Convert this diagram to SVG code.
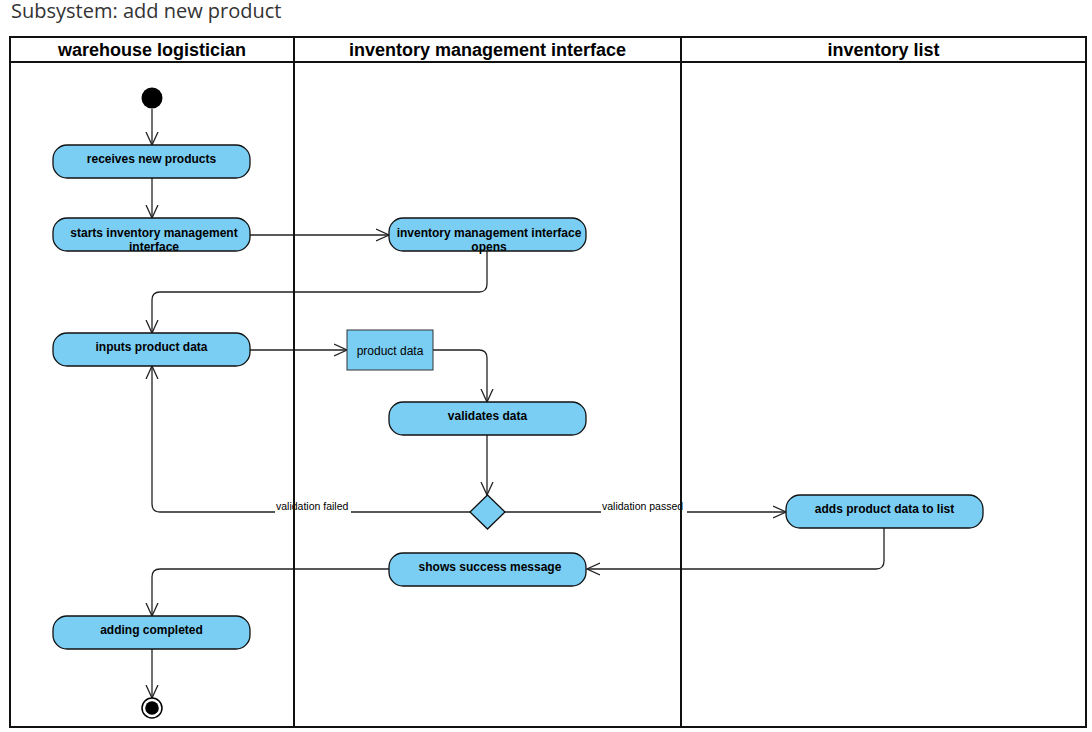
<svg xmlns="http://www.w3.org/2000/svg" width="1092" height="732" viewBox="0 0 1092 732">
<style>
.title{font-family:"Open Sans","Noto Sans",sans-serif;font-size:20px;fill:#333}
.hdr{font-family:"Liberation Sans",Arial,sans-serif;font-size:18px;font-weight:bold;fill:#000;text-anchor:middle}
.act{fill:#7ACEF4;stroke:#111;stroke-width:1.3}
.obj{fill:#7ACEF4;stroke:#333;stroke-width:1}
.at{font-family:"Liberation Sans",Arial,sans-serif;font-size:12px;font-weight:bold;fill:#000;text-anchor:middle}
.ot{font-family:"Liberation Sans",Arial,sans-serif;font-size:12px;fill:#000;text-anchor:middle}
.lbl{font-family:"Liberation Sans",Arial,sans-serif;font-size:10.5px;fill:#000}
.con{fill:none;stroke:#222;stroke-width:1.3;marker-end:url(#arr)}
.lane{fill:none;stroke:#111;stroke-width:2}
</style>
<defs>
<marker id="arr" viewBox="0 0 14 14" refX="13" refY="7" markerWidth="14" markerHeight="14" markerUnits="userSpaceOnUse" orient="auto">
<path d="M0,1 L13,7 L0,13" fill="none" stroke="#222" stroke-width="1.3"/>
</marker>
</defs>
<rect x="0" y="0" width="1092" height="732" fill="#fff"/>
<text class="title" x="11" y="18">Subsystem: add new product</text>

<g id="connectors">
<path class="con" d="M152,109 V145"/>
<path class="con" d="M152,178 V218"/>
<path class="con" d="M250,235 H389"/>
<path class="con" d="M487,251 V284 Q487,292 479,292 H160 Q152,292 152,300 V333"/>
<path class="con" d="M250,350 H347"/>
<path class="con" d="M433,350 H479 Q487,350 487,358 V402"/>
<path class="con" d="M487,435 V495"/>
<path class="con" d="M470,512 H160 Q152,512 152,504 V366"/>
<path class="con" d="M505,512 H786"/>
<path class="con" d="M884,528 V561 Q884,569 876,569 H587"/>
<path class="con" d="M389,569 H160 Q152,569 152,577 V616"/>
<path class="con" d="M152,649 V698"/>
<rect x="275" y="499" width="76" height="14" fill="#fff"/>
<text class="lbl" x="276" y="510">validation failed</text>
<rect x="601" y="499" width="86" height="14" fill="#fff"/>
<text class="lbl" x="602" y="510">validation passed</text>
</g>

<g id="lanes">
<rect class="lane" x="10" y="37" width="1076" height="690"/>
<line class="lane" x1="10" y1="62" x2="1086" y2="62"/>
<line class="lane" x1="294" y1="37" x2="294" y2="727"/>
<line class="lane" x1="681" y1="37" x2="681" y2="727"/>
<text class="hdr" x="152" y="56">warehouse logistician</text>
<text class="hdr" x="487.5" y="56">inventory management interface</text>
<text class="hdr" x="883.5" y="56">inventory list</text>
</g>

<g id="start"><circle cx="152" cy="98" r="10.5" fill="#000"/></g>
<g id="receives"><rect class="act" x="53" y="145" width="197" height="33" rx="14"/><text class="at" x="151.5" y="163">receives new products</text></g>
<g id="starts"><rect class="act" x="53" y="218" width="197" height="33" rx="14"/><text class="at" x="154" y="236.5">starts inventory management</text><text class="at" x="154" y="250.5">interface</text></g>
<g id="opens"><rect class="act" x="389" y="218" width="197" height="33" rx="14"/><text class="at" x="489" y="236.5">inventory management interface</text><text class="at" x="489" y="250.5">opens</text></g>
<g id="inputs"><rect class="act" x="53" y="333" width="197" height="33" rx="14"/><text class="at" x="151.5" y="351">inputs product data</text></g>
<g id="productdata"><rect class="obj" x="347" y="330" width="86" height="40"/><text class="ot" x="390" y="355">product data</text></g>
<g id="validates"><rect class="act" x="389" y="402" width="197" height="33" rx="14"/><text class="at" x="487.5" y="420">validates data</text></g>
<g id="decision"><polygon class="act" points="487.5,495 505,512 487.5,529 470,512"/></g>
<g id="adds"><rect class="act" x="786" y="495" width="197" height="33" rx="14"/><text class="at" x="884.5" y="513">adds product data to list</text></g>
<g id="shows"><rect class="act" x="389" y="553" width="197" height="33" rx="14"/><text class="at" x="490" y="571">shows success message</text></g>
<g id="completed"><rect class="act" x="53" y="616" width="197" height="33" rx="14"/><text class="at" x="151.5" y="634">adding completed</text></g>
<g id="end"><circle cx="152" cy="708" r="10" fill="#fff" stroke="#000" stroke-width="1.5"/><circle cx="152" cy="708" r="6.8" fill="#000"/></g>
</svg>
